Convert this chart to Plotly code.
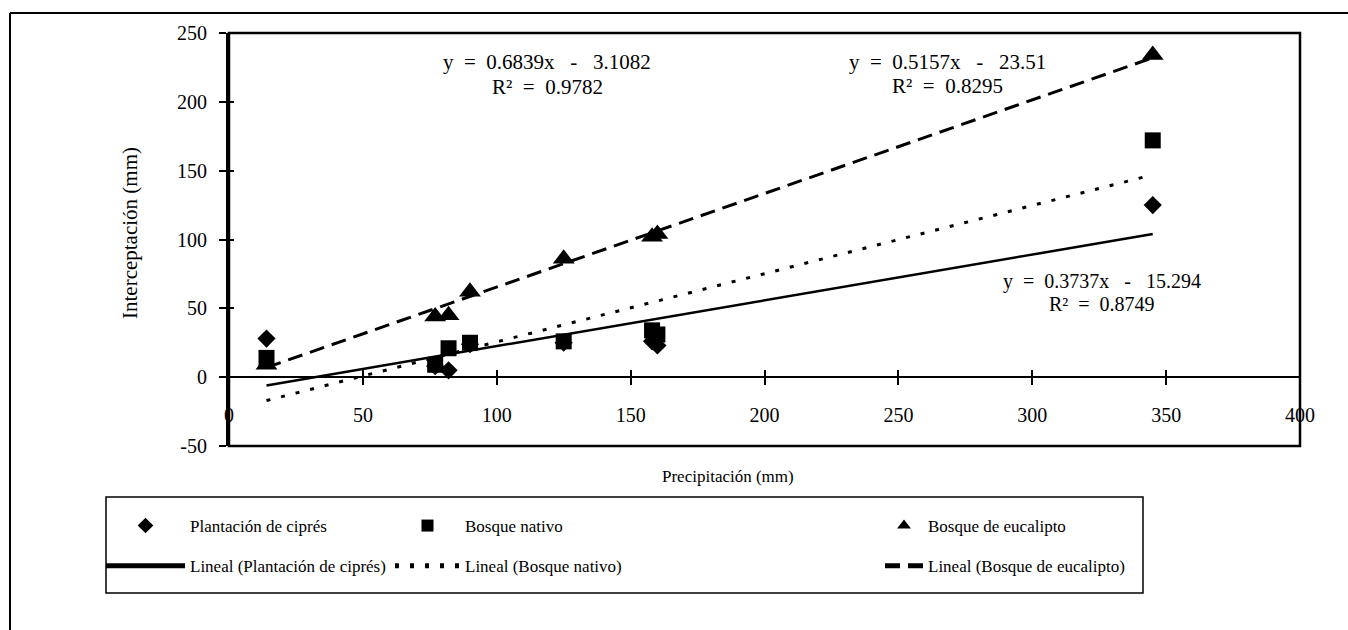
import plotly.graph_objects as go

# ---------------- data ----------------
precip = [14, 77, 82, 90, 125, 158, 160, 345]
cipres = [28, 8, 5, 24, 25, 26, 23, 125]
nativo = [14, 9, 21, 25, 26, 34, 31, 172]
eucalipto = [9, 44, 45, 62, 86, 102, 104, 234]

# trend line end points (Excel linear trend lines)
trend_x = [14, 345]
trend_cipres = [-6, 104]
trend_nativo = [-17, 147]
trend_eucalipto = [7, 232]

x_ticks = [0, 50, 100, 150, 200, 250, 300, 350, 400]
x_tick_text = ["0", "50", "100", "150", "200", "250", "300", "350", "400"]
y_ticks = [-50, 0, 50, 100, 150, 200, 250]
y_tick_text = ["-50", "0", "50", "100", "150", "200", "250"]

NB = "\u00a0"
eq_eucalipto = ["y" + NB * 2 + "=" + NB * 2 + "0.6839x" + NB * 3 + "-" + NB * 3 + "3.1082",
                "R\u00b2" + NB * 2 + "=" + NB * 2 + "0.9782"]
eq_nativo = ["y" + NB * 2 + "=" + NB * 2 + "0.5157x" + NB * 3 + "-" + NB * 3 + "23.51",
             "R\u00b2" + NB * 2 + "=" + NB * 2 + "0.8295"]
eq_cipres = ["y" + NB * 2 + "=" + NB * 2 + "0.3737x" + NB * 3 + "-" + NB * 3 + "15.294",
             "R\u00b2" + NB * 2 + "=" + NB * 2 + "0.8749"]

names = ["Plantación de ciprés", "Bosque nativo", "Bosque de eucalipto"]

# ---------------- layout helpers ----------------
W, H = 1348, 630
L, R, T, B = 229, 1300, 33, 446
FONT = "Liberation Serif"


def px_x(p):
    return (p - L) / (R - L)


def px_y(p):
    return (B - p) / (B - T)


fig = go.Figure()

# trend lines (drawn beneath the markers)
line_specs = [
    (trend_cipres, "solid", 2.5, "legend", "g4"),
    (trend_nativo, "4px,11px", 3, "legend2", "g5"),
    (trend_eucalipto, "15px,8px", 3, "legend3", "g6"),
]
for (ty, dash, w, lg, grp), nm in zip(line_specs, names):
    fig.add_trace(go.Scatter(
        x=trend_x, y=ty, mode="lines", name="Lineal (" + nm + ")",
        line=dict(color="black", width=w, dash=dash),
        legend=lg, legendgroup=grp, legendrank=2, hoverinfo="skip"))

marker_specs = [
    (cipres, "diamond", 14, "legend", "g1"),
    (nativo, "square", 16, "legend2", "g2"),
    (eucalipto, "triangle-up", 19, "legend3", "g3"),
]
for (vals, sym, sz, lg, grp), nm in zip(marker_specs, names):
    fig.add_trace(go.Scatter(
        x=precip, y=vals, mode="markers", name=nm,
        marker=dict(symbol=sym, size=sz, color="black", line=dict(width=0)),
        legend=lg, legendgroup=grp, legendrank=1))

# empty trace so the overlay axes (crossing ticks) get drawn
fig.add_trace(go.Scatter(x=[], y=[], xaxis="x2", yaxis="y2", showlegend=False))

tickfont = dict(family=FONT, size=20, color="black")

fig.update_layout(
    width=W, height=H,
    margin=dict(l=L, r=W - R, t=T, b=H - B, pad=0),
    paper_bgcolor="white", plot_bgcolor="white",
    showlegend=True,
    xaxis=dict(range=[0, 400], tickmode="array", tickvals=x_ticks, ticktext=x_tick_text,
               showgrid=False, zeroline=False, showline=True,
               linecolor="black", linewidth=2, anchor="free", position=1 / 6,
               ticks="outside", ticklen=7, tickwidth=1.5, tickcolor="black",
               tickfont=tickfont, ticklabelstandoff=13, fixedrange=True),
    yaxis=dict(range=[-50, 250], tickmode="array", tickvals=y_ticks, ticktext=y_tick_text,
               showgrid=False, zeroline=False, showline=True,
               linecolor="black", linewidth=3,
               ticks="outside", ticklen=7, tickwidth=1.5, tickcolor="black",
               tickfont=tickfont, ticklabelstandoff=8, fixedrange=True),
    xaxis2=dict(range=[0, 400], tickmode="array", tickvals=x_ticks,
                overlaying="x", anchor="free", position=1 / 6,
                showgrid=False, zeroline=False, showline=False,
                ticks="inside", ticklen=7, tickwidth=1.5, tickcolor="black",
                showticklabels=False, fixedrange=True),
    yaxis2=dict(range=[-50, 250], tickmode="array", tickvals=y_ticks,
                overlaying="y", anchor="x",
                showgrid=False, zeroline=False, showline=False,
                ticks="inside", ticklen=5, tickwidth=1.5, tickcolor="black",
                showticklabels=False, fixedrange=True),
)

legend_common = dict(
    orientation="v", xanchor="left", yanchor="top", y=px_y(508),
    bgcolor="rgba(0,0,0,0)", borderwidth=0, traceorder="grouped",
    tracegroupgap=15, itemsizing="constant",
    font=dict(family=FONT, size=17, color="black"),
)
fig.update_layout(
    legend=dict(legend_common, x=px_x(101), itemwidth=79),
    legend2=dict(legend_common, x=px_x(390), itemwidth=65),
    legend3=dict(legend_common, x=px_x(880), itemwidth=38),
)

# frames
shapes = [
    dict(type="rect", xref="paper", yref="paper", x0=0, x1=1, y0=0, y1=1,
         line=dict(color="black", width=2.5)),
    dict(type="line", xref="paper", yref="paper", x0=px_x(10), x1=px_x(W + 5),
         y0=px_y(13), y1=px_y(13), line=dict(color="black", width=2)),
    dict(type="line", xref="paper", yref="paper", x0=px_x(10), x1=px_x(10),
         y0=px_y(13), y1=px_y(H + 5), line=dict(color="black", width=2)),
    dict(type="rect", xref="paper", yref="paper", x0=px_x(106), x1=px_x(1143),
         y0=px_y(497), y1=px_y(593), line=dict(color="black", width=1.5)),
]
fig.update_layout(shapes=shapes)

txt = dict(family=FONT, size=17, color="black")
ytxt = dict(family=FONT, size=21, color="black")
eqf = dict(family=FONT, size=21, color="black")
eqf3 = dict(family=FONT, size=20, color="black")
annotations = [
    dict(text="Precipitación (mm)", x=px_x(728), y=px_y(476), font=txt),
    dict(text="Interceptación (mm)", x=px_x(130), y=px_y(233), font=ytxt, textangle=-90),
    dict(text=eq_eucalipto[0], x=px_x(547), y=px_y(62), font=eqf),
    dict(text=eq_eucalipto[1], x=px_x(547), y=px_y(87), font=eqf),
    dict(text=eq_nativo[0], x=px_x(947), y=px_y(62), font=eqf),
    dict(text=eq_nativo[1], x=px_x(947), y=px_y(86), font=eqf),
    dict(text=eq_cipres[0], x=px_x(1102), y=px_y(281), font=eqf3),
    dict(text=eq_cipres[1], x=px_x(1102), y=px_y(304), font=eqf3),
]
for a in annotations:
    a.update(xref="paper", yref="paper", showarrow=False,
             xanchor="center", yanchor="middle")
fig.update_layout(annotations=annotations)

fig.write_html("out.html", config={"displayModeBar": False},
               post_script="document.body.style.margin='0';")
